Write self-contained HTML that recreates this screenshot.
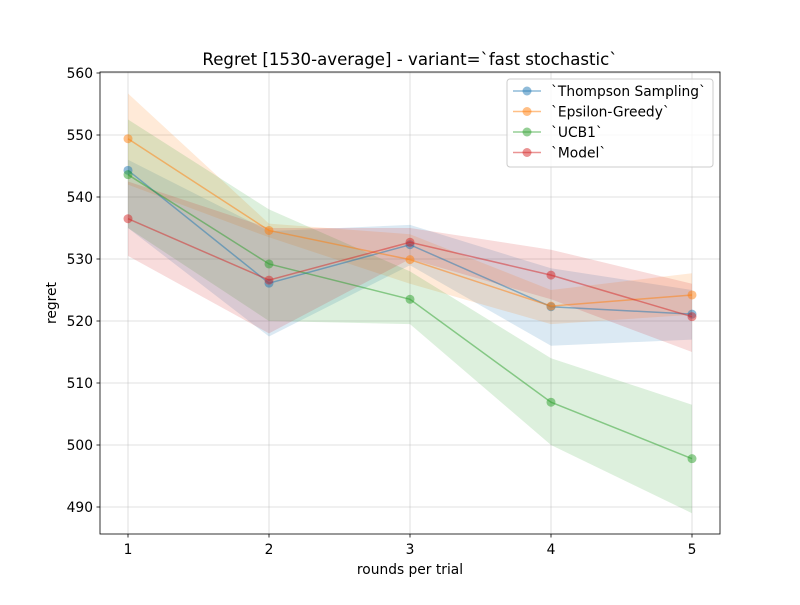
<!DOCTYPE html>
<html><head><meta charset="utf-8"><style>
body{margin:0;background:#fff;font-family:"Liberation Sans","DejaVu Sans",sans-serif}
svg text{font-family:"DejaVu Sans","Liberation Sans",sans-serif}
</style></head><body>
<svg id="chart" width="800" height="600" viewBox="0 0 800 600">
<rect width="800" height="600" fill="#fff"/>
<g id="grid"></g><g id="bands"></g><g id="lines"></g><g id="axes"></g>
<text x="410" y="65" text-anchor="middle" font-size="16.6">Regret [1530-average] - variant=`fast stochastic`</text>
<text x="410" y="574" text-anchor="middle" font-size="13.8">rounds per trial</text>
<text x="56" y="303" text-anchor="middle" font-size="13.8" transform="rotate(-90 56 303)">regret</text>
<g id="legend"></g>
</svg>
<script>
const categories=[1,2,3,4,5];
const seriesNames=["`Thompson Sampling`","`Epsilon-Greedy`","`UCB1`","`Model`"];
const tsValues=[544.3,526.1,532.3,522.3,521.1];
const egValues=[549.4,534.6,529.9,522.4,524.2];
const ucbValues=[543.6,529.2,523.5,506.9,497.8];
const modelValues=[536.5,526.6,532.7,527.4,520.7];
const tsLow=[535,517.5,529,516,517], tsHigh=[546,534.5,535.5,528.5,525];
const egLow=[542,533.5,526,519.5,521], egHigh=[556.7,535.7,534,525,527.7];
const ucbLow=[535,520,519.5,500,489], ucbHigh=[552.5,538,528,514,506.5];
const modelLow=[530.5,518,530,523.5,515], modelHigh=[542.5,535,535,531.5,526];
const yTicks=[490,500,510,520,530,540,550,560];
const xTicks=[1,2,3,4,5];
const colors=["#1f77b4","#ff7f0e","#2ca02c","#d62728"];
const L=100,R=720,T=72,B=534;
const x=v=>128+(v-1)*141;
const y=v=>73+(560-v)*6.2;
const NS="http://www.w3.org/2000/svg";
function mk(tag,attrs,parent){const e=document.createElementNS(NS,tag);for(const k in attrs)e.setAttribute(k,attrs[k]);parent.appendChild(e);return e;}
const grid=document.getElementById('grid'),axes=document.getElementById('axes');
yTicks.forEach(t=>{
 const g=mk('line',{x1:L,x2:R,y1:y(t),y2:y(t),stroke:'#b0b0b0','stroke-width':0.8,'stroke-opacity':0.5},grid);
 
 
 mk('line',{x1:L-3.5,x2:L,y1:y(t),y2:y(t),stroke:'#000','stroke-width':0.8},axes);
 const tx=mk('text',{x:L-7,y:y(t)+5,'text-anchor':'end','font-size':13.8},axes);tx.textContent=t;
 
 
});
xTicks.forEach(t=>{
 const g=mk('line',{x1:x(t),x2:x(t),y1:T,y2:B,stroke:'#b0b0b0','stroke-width':0.8,'stroke-opacity':0.5},grid);
 
 
 mk('line',{x1:x(t),x2:x(t),y1:B,y2:B+3.5,stroke:'#000','stroke-width':0.8},axes);
 const tx=mk('text',{x:x(t),y:B+20,'text-anchor':'middle','font-size':13.8},axes);tx.textContent=t;
 
 
});
const fr=mk('rect',{x:L,y:T,width:R-L,height:B-T,fill:'none',stroke:'#000','stroke-width':0.8},axes);


const vals=[tsValues,egValues,ucbValues,modelValues];
const lows=[tsLow,egLow,ucbLow,modelLow],highs=[tsHigh,egHigh,ucbHigh,modelHigh];
const bands=document.getElementById('bands'),lines=document.getElementById('lines');
vals.forEach((vs,i)=>{
 let pts=categories.map((c,j)=>x(c)+','+y(highs[i][j]));
 pts=pts.concat(categories.map((c,j)=>x(c)+','+y(lows[i][j])).reverse());
 const b=mk('polygon',{points:pts.join(' '),fill:colors[i],'fill-opacity':0.16},bands);
 
 
});
vals.forEach((vs,i)=>{
 const p=mk('polyline',{points:categories.map((c,j)=>x(c)+','+y(vs[j])).join(' '),fill:'none',stroke:colors[i],'stroke-width':1.5,'stroke-opacity':0.5},lines);
 
 
 categories.forEach((c,j)=>{
  const m=mk('circle',{cx:x(c),cy:y(vs[j]),r:4.5,fill:colors[i],'fill-opacity':0.5},lines);
  
  
 });
});
const lg=document.getElementById('legend');
const box=mk('rect',{x:507,y:79,width:206,height:88,rx:3,fill:'#fff','fill-opacity':0.8,stroke:'#ccc'},lg);


seriesNames.forEach((n,i)=>{
 const yy=91+i*20.5;
 mk('line',{x1:513,x2:541,y1:yy,y2:yy,stroke:colors[i],'stroke-width':1.5,'stroke-opacity':0.5},lg);
 mk('circle',{cx:527,cy:yy,r:4.5,fill:colors[i],'fill-opacity':0.5},lg);
 const t=mk('text',{x:551,y:yy+5,'font-size':13.8},lg);t.textContent=n;
 
 
});
</script>
</body></html>
